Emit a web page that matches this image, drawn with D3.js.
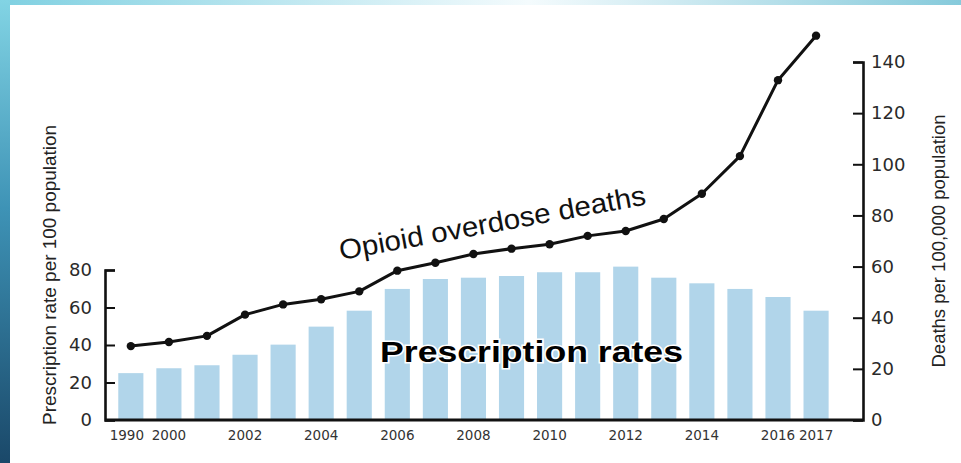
<!DOCTYPE html>
<html>
<head>
<meta charset="utf-8">
<script src="https://cdn.jsdelivr.net/npm/d3@7"></script>
<style>
  html, body { margin: 0; padding: 0; background: #fff; }
  svg { display: block; }
</style>
</head>
<body>
<svg id="chart" width="961" height="463"></svg>
<script>
const years = ["1990","2000","2001","2002","2003","2004","2005","2006","2007","2008","2009","2010","2011","2012","2013","2014","2015","2016","2017"];
const prescriptionRates = [25, 27.6, 29.2, 34.8, 40.2, 49.8, 58.3, 69.9, 75.2, 75.9, 76.8, 78.8, 78.8, 81.8, 75.9, 72.9, 69.9, 65.6, 58.3];
const overdoseDeaths = [28.9, 30.5, 32.9, 41.2, 45.2, 47.2, 50.3, 58.4, 61.5, 64.9, 67.0, 68.7, 72.0, 73.9, 78.6, 88.5, 103.2, 132.9, 150.3];
const xTickLabels = ["1990","2000","2002","2004","2006","2008","2010","2012","2014","2016","2017"];
const leftTicks = [0, 20, 40, 60, 80];
const rightTicks = [0, 20, 40, 60, 80, 100, 120, 140];

const svg = d3.select("#chart");
const W = 961, H = 463;

// frame decoration
const defs = svg.append("defs");
const lg = defs.append("linearGradient").attr("id", "leftStrip").attr("x1", 0).attr("y1", 0).attr("x2", 0).attr("y2", 1);
lg.append("stop").attr("offset", "0%").attr("stop-color", "#82d4e4");
lg.append("stop").attr("offset", "45%").attr("stop-color", "#3e93b6");
lg.append("stop").attr("offset", "100%").attr("stop-color", "#1a4869");
const tg = defs.append("linearGradient").attr("id", "topStrip").attr("x1", 0).attr("y1", 0).attr("x2", 1).attr("y2", 0);
tg.append("stop").attr("offset", "0%").attr("stop-color", "#7fd0e1");
tg.append("stop").attr("offset", "55%").attr("stop-color", "#f4fbfd");
tg.append("stop").attr("offset", "100%").attr("stop-color", "#86cadb");
svg.append("rect").attr("x", 0).attr("y", 0).attr("width", W).attr("height", 5).attr("fill", "url(#topStrip)");
svg.append("rect").attr("x", 0).attr("y", 0).attr("width", 10).attr("height", H).attr("fill", "url(#leftStrip)");

// scales
const x = d3.scaleBand().domain(years).range([111.8, 835.1]).paddingInner(0.34).paddingOuter(0.17);
const yL = d3.scaleLinear().domain([0, 80]).range([420, 270]);
const yR = d3.scaleLinear().domain([0, 140]).range([420, 62]);
const leftX = 105, rightX = 863;

// bars
svg.append("g").selectAll("rect").data(years).join("rect")
  .attr("x", d => x(d))
  .attr("width", x.bandwidth())
  .attr("y", (d, i) => yL(prescriptionRates[i]))
  .attr("height", (d, i) => yL(0) - yL(prescriptionRates[i]))
  .attr("fill", "#b1d5ea");

// line
const pts = years.map((d, i) => [x(d) + x.bandwidth() / 2, yR(overdoseDeaths[i])]);
svg.append("path")
  .attr("d", d3.line().curve(d3.curveLinear)(pts))
  .attr("fill", "none").attr("stroke", "#111").attr("stroke-width", 3).attr("stroke-linejoin", "round");
svg.append("g").selectAll("circle").data(pts).join("circle")
  .attr("cx", d => d[0]).attr("cy", d => d[1]).attr("r", 4.2).attr("fill", "#111");

// axes
const tickFont = "'DejaVu Sans', sans-serif";
const gL = svg.append("g").attr("transform", `translate(${leftX},0)`)
  .call(d3.axisLeft(yL).tickValues(leftTicks).tickSizeInner(-10).tickSizeOuter(-10).tickPadding(13));
const gR = svg.append("g").attr("transform", `translate(${rightX},0)`)
  .call(d3.axisRight(yR).tickValues(rightTicks).tickSizeInner(-10).tickSizeOuter(-10).tickPadding(8));
[gL, gR].forEach(g => {
  g.select(".domain").attr("stroke", "#111").attr("stroke-width", 2.6);
  g.selectAll(".tick line").attr("stroke", "#111").attr("stroke-width", 2);
  g.selectAll(".tick text").attr("fill", "#2a2a2a").style("font-family", tickFont).style("font-size", "18px");
});

const gX = svg.append("g").attr("transform", `translate(0,${yL(0)})`)
  .call(d3.axisBottom(x).tickValues(xTickLabels).tickSize(0).tickPadding(10));
gX.select(".domain").remove();
gX.selectAll(".tick text").attr("fill", "#333").style("font-family", tickFont).style("font-size", "13.5px")
  .attr("dx", d => d === "1990" ? -4 : 0);
svg.append("line").attr("x1", leftX).attr("x2", rightX).attr("y1", yL(0)).attr("y2", yL(0))
  .attr("stroke", "#111").attr("stroke-width", 3);

// axis titles
const titleFont = "'Liberation Sans', Arial, sans-serif";
svg.append("text").attr("transform", `translate(56,${275}) rotate(-90)`)
  .attr("text-anchor", "middle").style("font-family", titleFont).style("font-size", "18.5px").attr("fill", "#222")
  .attr("textLength", 300).attr("lengthAdjust", "spacingAndGlyphs")
  .text("Prescription rate per 100 population");
svg.append("text").attr("transform", `translate(945,${241}) rotate(-90)`)
  .attr("text-anchor", "middle").style("font-family", titleFont).style("font-size", "18.5px").attr("fill", "#222")
  .attr("textLength", 253).attr("lengthAdjust", "spacingAndGlyphs")
  .text("Deaths per 100,000 population");

// series labels
svg.append("text").attr("transform", "translate(341,260) rotate(-10.3)")
  .style("font-family", titleFont).style("font-size", "28px").attr("fill", "#111")
  .attr("textLength", 311).attr("lengthAdjust", "spacingAndGlyphs")
  .text("Opioid overdose deaths");
svg.append("text").attr("x", 380).attr("y", 362)
  .style("font-family", "'Liberation Sans', Arial, sans-serif").style("font-size", "30px").style("font-weight", "bold")
  .attr("fill", "#000").attr("stroke", "#fff").attr("stroke-width", 3).attr("paint-order", "stroke")
  .attr("textLength", 303).attr("lengthAdjust", "spacingAndGlyphs")
  .text("Prescription rates");
</script>
</body>
</html>
